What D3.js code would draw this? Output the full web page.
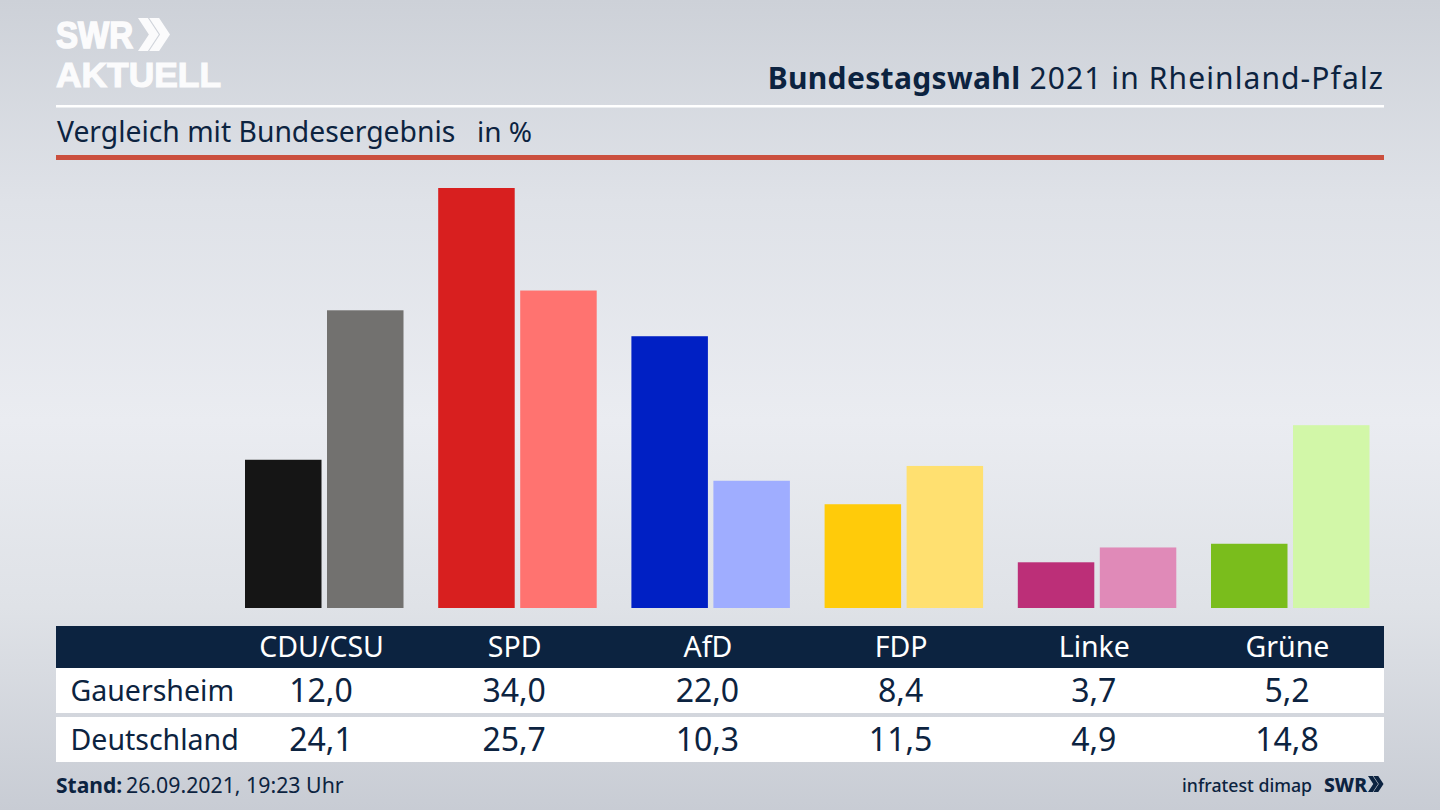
<!DOCTYPE html>
<html>
<head>
<meta charset="utf-8">
<script src="https://cdn.jsdelivr.net/npm/d3@7"></script>
<style>
  html, body { margin: 0; padding: 0; overflow: hidden; }
  svg { display: block; }
  text { font-family: "Noto Sans", sans-serif; fill: #0c2340; }
</style>
</head>
<body>
<div class="graph"></div>
<script>
let parties = ["CDU/CSU", "SPD", "AfD", "FDP", "Linke", "Grüne"];
let places = ["Gauersheim", "Deutschland"];
let gauersheim = [12.0, 34.0, 22.0, 8.4, 3.7, 5.2];
let deutschland = [24.1, 25.7, 10.3, 11.5, 4.9, 14.8];
let darkColors = ["#151515", "#d81f1f", "#0020c4", "#ffcb0a", "#bc2f78", "#7abd1c"];
let lightColors = ["#72716f", "#ff7370", "#9fadff", "#ffe070", "#e08ab8", "#d2f7a8"];

let w = 1440;
let h = 810;
let navy = "#0c2340";

let svg = d3.select(".graph").append("svg").attr("width", w).attr("height", h);

// background
let grad = svg.append("defs").append("linearGradient")
  .attr("id", "bg").attr("x1", 0).attr("y1", 0).attr("x2", 0).attr("y2", 1);
grad.append("stop").attr("offset", "0%").attr("stop-color", "#cdd1d8");
grad.append("stop").attr("offset", "25%").attr("stop-color", "#dfe2e8");
grad.append("stop").attr("offset", "52%").attr("stop-color", "#eaecf1");
grad.append("stop").attr("offset", "75%").attr("stop-color", "#dfe2e7");
grad.append("stop").attr("offset", "100%").attr("stop-color", "#c8ccd4");
svg.append("rect").attr("width", w).attr("height", h).attr("fill", "url(#bg)");

// logo
function chevrons(x, y, s, color) {
  let pts = [[0, 0], [0.3, 0], [0.63, 0.5], [0.3, 1], [0, 1], [0.33, 0.5]];
  [0, 0.34].forEach(function (off) {
    svg.append("polygon")
      .attr("points", pts.map(function (p) {
        return (x + (p[0] + off) * s) + "," + (y + p[1] * s);
      }).join(" "))
      .attr("fill", color);
  });
}
svg.append("text").attr("x", 56).attr("y", 47.5).text("SWR")
  .style("font-family", '"Liberation Sans", sans-serif')
  .style("font-size", "36px").style("font-weight", 700).style("fill", "#fbfbfc")
  .style("stroke", "#fbfbfc").style("stroke-width", "1.6px")
  .attr("textLength", 77).attr("lengthAdjust", "spacingAndGlyphs");
svg.append("text").attr("x", 56).attr("y", 87).text("AKTUELL")
  .style("font-family", '"Liberation Sans", sans-serif')
  .style("font-size", "35.5px").style("font-weight", 700).style("fill", "#fbfbfc")
  .style("stroke", "#fbfbfc").style("stroke-width", "1.2px")
  .attr("textLength", 165).attr("lengthAdjust", "spacingAndGlyphs");
chevrons(138, 18, 33, "#fbfbfc");

// header
let title = svg.append("text").attr("x", 1384).attr("y", 89)
  .attr("text-anchor", "end").style("font-size", "30px");
title.append("tspan").text("Bundestagswahl").style("font-weight", 700).style("letter-spacing", "0.35px");
title.append("tspan").text(" 2021 in Rheinland-Pfalz").style("letter-spacing", "1.1px");
svg.append("rect").attr("x", 56).attr("y", 105).attr("width", 1328).attr("height", 2.5).attr("fill", "#fff");
svg.append("text").attr("x", 57).attr("y", 142)
  .text("Vergleich mit Bundesergebnis").style("font-size", "28.3px");
svg.append("text").attr("x", 477).attr("y", 142).text("in %").style("font-size", "28px");
svg.append("rect").attr("x", 56).attr("y", 155).attr("width", 1328).attr("height", 5).attr("fill", "#cb4f3e");

// scales
let x = d3.scalePoint().domain(parties).range([321, 1287]);
let y = d3.scaleLinear().domain([0, 34]).range([608, 188]);
let barW = 76.5;

svg.append("g").selectAll("rect").data(gauersheim).enter().append("rect")
  .attr("x", function (d, i) { return x(parties[i]) - barW + 0.5; })
  .attr("y", function (d) { return y(d); })
  .attr("width", barW)
  .attr("height", function (d) { return y(0) - y(d); })
  .style("fill", function (d, i) { return darkColors[i]; });

svg.append("g").selectAll("rect").data(deutschland).enter().append("rect")
  .attr("x", function (d, i) { return x(parties[i]) + 6; })
  .attr("y", function (d) { return y(d); })
  .attr("width", barW)
  .attr("height", function (d) { return y(0) - y(d); })
  .style("fill", function (d, i) { return lightColors[i]; });

// table
svg.append("rect").attr("x", 56).attr("y", 626).attr("width", 1328).attr("height", 42).attr("fill", navy);
svg.append("rect").attr("x", 56).attr("y", 668).attr("width", 1328).attr("height", 45).attr("fill", "#fff");
svg.append("rect").attr("x", 56).attr("y", 717).attr("width", 1328).attr("height", 45).attr("fill", "#fff");

let xAxis = d3.axisBottom(x).tickSize(0).tickPadding(0);
let axisG = svg.append("g").attr("transform", "translate(0, 626)").call(xAxis);
axisG.select(".domain").remove();
axisG.selectAll("text")
  .attr("y", 31).attr("dy", 0)
  .style("font-size", "28.5px").style("font-family", '"Noto Sans", sans-serif').style("fill", "#fff");

let rowY = [701, 750];
[gauersheim, deutschland].forEach(function (row, r) {
  svg.append("text").attr("x", 70.5).attr("y", rowY[r]).text(places[r]).style("font-size", "28.5px");
  svg.append("g").selectAll("text").data(row).enter().append("text")
    .attr("x", function (d, i) { return x(parties[i]); })
    .attr("y", rowY[r] + 1)
    .attr("text-anchor", "middle")
    .text(function (d) { return d.toFixed(1).replace(".", ","); })
    .style("font-size", "32px");
});

// footer
let stand = svg.append("text").attr("x", 56).attr("y", 793).style("font-size", "21px");
stand.append("tspan").text("Stand:").style("font-weight", 700);
stand.append("tspan").attr("x", 126).text("26.09.2021, 19:23 Uhr").style("font-size", "21.3px");
svg.append("text").attr("x", 1312).attr("y", 792).attr("text-anchor", "end")
  .text("infratest dimap").style("font-size", "17.7px").style("font-weight", 500);
svg.append("text").attr("x", 1324).attr("y", 792).text("SWR")
  .style("font-size", "20px").style("font-weight", 800)
  .attr("textLength", 43).attr("lengthAdjust", "spacingAndGlyphs");
chevrons(1368, 776, 16, navy);
</script>
</body>
</html>
